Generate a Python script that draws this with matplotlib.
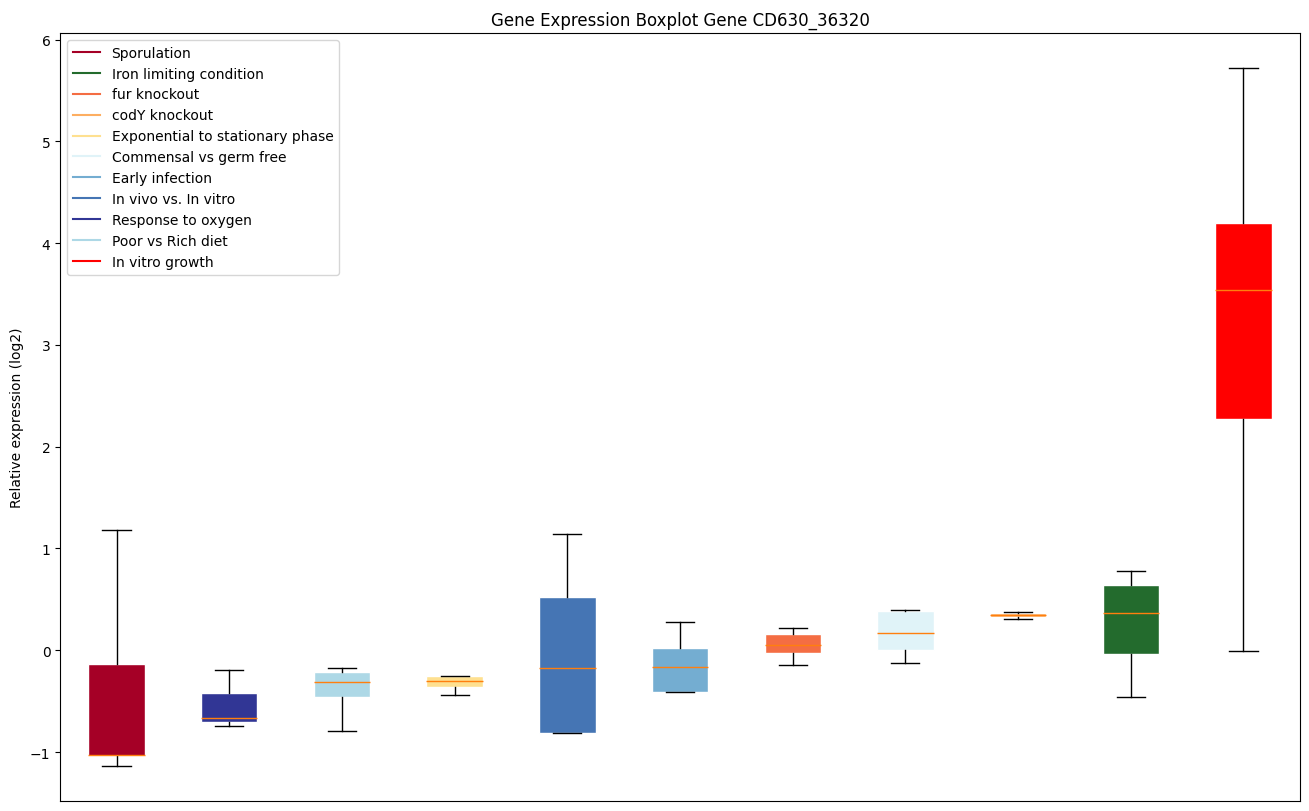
import matplotlib

matplotlib.use("Agg")
import matplotlib.pyplot as plt
from matplotlib.lines import Line2D

# Boxes, left to right
conditions = [
    "Sporulation", "Response to oxygen", "Poor vs Rich diet",
    "Exponential to stationary phase", "In vivo vs. In vitro", "Early infection",
    "fur knockout", "Commensal vs germ free", "codY knockout",
    "Iron limiting condition", "In vitro growth",
]
whislo = [-1.14, -0.74, -0.79, -0.44, -0.81, -0.41, -0.14, -0.12, 0.31, -0.46, -0.01]
q1 = [-1.04, -0.70, -0.46, -0.36, -0.81, -0.41, -0.03, 0.00, 0.33, -0.04, 2.27]
med = [-1.03, -0.67, -0.31, -0.30, -0.17, -0.16, 0.05, 0.17, 0.35, 0.37, 3.54]
q3 = [-0.13, -0.42, -0.21, -0.25, 0.52, 0.02, 0.16, 0.39, 0.37, 0.64, 4.20]
whishi = [1.18, -0.19, -0.17, -0.25, 1.14, 0.28, 0.22, 0.40, 0.38, 0.78, 5.72]

box_colors = {
    "Sporulation": "#a50026",
    "Iron limiting condition": "#236b2d",
    "fur knockout": "#f46d43",
    "codY knockout": "#fdae61",
    "Exponential to stationary phase": "#fee090",
    "Commensal vs germ free": "#e0f3f8",
    "Early infection": "#74add1",
    "In vivo vs. In vitro": "#4575b4",
    "Response to oxygen": "#313695",
    "Poor vs Rich diet": "#add8e6",
    "In vitro growth": "#ff0000",
}
legend_order = list(box_colors.keys())

stats = [
    {"whislo": a, "q1": b, "med": c, "q3": d, "whishi": e, "fliers": []}
    for a, b, c, d, e in zip(whislo, q1, med, q3, whishi)
]

fig, ax = plt.subplots(figsize=(13.09, 8.12), dpi=100)
fig.subplots_adjust(left=0.046, right=0.993, top=0.958, bottom=0.012)

bp = ax.bxp(stats, patch_artist=True, showfliers=False,
            boxprops=dict(edgecolor="white", linewidth=1.0),
            medianprops=dict(color="#ff7f0e"))
for patch, name in zip(bp["boxes"], conditions):
    patch.set_facecolor(box_colors[name])

handles = [Line2D([0], [0], color=box_colors[n], lw=1.5) for n in legend_order]
ax.legend(handles, legend_order, loc="upper left")

ax.set_xticks([])
ax.set_title("Gene Expression Boxplot Gene CD630_36320")
ax.set_ylabel("Relative expression (log2)")

fig.savefig("out.png", dpi=100)
